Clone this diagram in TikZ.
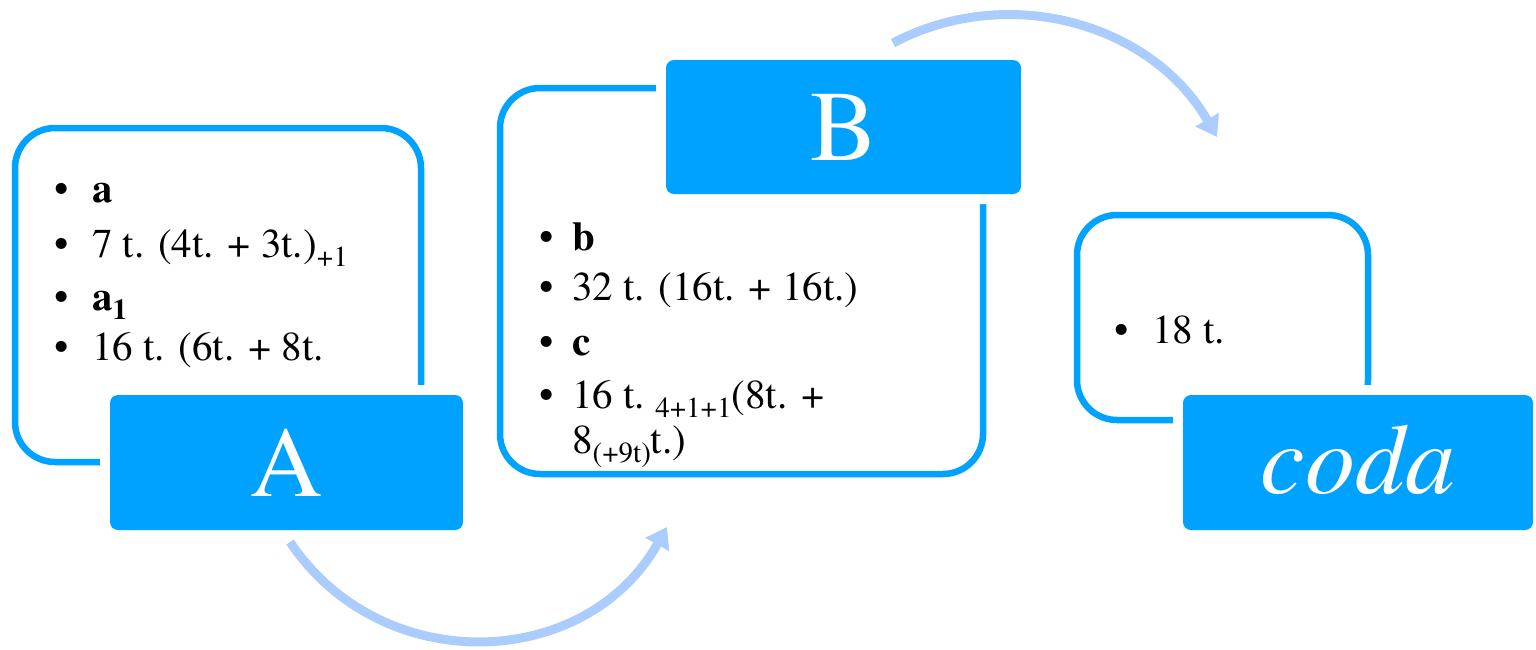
\documentclass[tikz,border=0pt]{standalone}
\usepackage{fontspec}
\setmainfont{texgyretermes}[Extension=.otf,UprightFont=*-regular,BoldFont=*-bold,ItalicFont=*-italic,BoldItalicFont=*-bolditalic]
\usetikzlibrary{arrows.meta}
\definecolor{boxblue}{HTML}{00A2FF}
\definecolor{arrowblue}{HTML}{AACCFF}
\newcommand\mysub[1]{\raisebox{-0.24em}{\fontsize{29}{29}\selectfont #1}}
\begin{document}
\begin{tikzpicture}[x=1pt,y=-1pt,
  frame/.style={draw=boxblue,line width=6.5pt,rounded corners=40pt,inner sep=0pt,outer sep=0pt},
  title/.style={fill=boxblue,rounded corners=8pt,inner sep=0pt,outer sep=0pt,text=white,
    font=\fontsize{100}{100}\selectfont,preaction={draw=white,line width=20pt}},
  bul/.style={anchor=base,inner sep=0pt,font=\fontsize{41}{48}\selectfont},
  txt/.style={anchor=base west,inner sep=0pt,font=\fontsize{41}{48}\selectfont},
  flow/.style={draw=arrowblue,line width=9pt,-{Triangle[length=20pt,width=26pt]}}]
\useasboundingbox (0,0) rectangle (1536,649);
% frames
\node[frame,minimum width=406pt,minimum height=334pt] (Aframe) at (218,295) {};
\node[frame,minimum width=483pt,minimum height=386pt] (Bframe) at (741.5,281) {};
\node[frame,minimum width=291pt,minimum height=205pt] (Cframe) at (1222.5,317.5) {};
% titles
\node[title,minimum width=353pt,minimum height=135pt] (A) at (286.5,462.5) {A};
\node[title,minimum width=355pt,minimum height=134pt] (B) at (843.5,127) {B};
\node[title,minimum width=350pt,minimum height=135pt] (C) at (1358,462.5) {\raisebox{6pt}{\itshape coda}};
% A text
\node[bul] (ab1) at (62,202) {•};
\node[txt] (at1) at (92,202) {\textbf{a}};
\node[bul] (ab2) at (62,257) {•};
\node[txt] (at2) at (92,257) {7 t. (4t. + 3t.)\mysub{+1}};
\node[bul] (ab3) at (62,310) {•};
\node[txt] (at3) at (92,310) {\textbf{a\mysub{1}}};
\node[bul] (ab4) at (62,360) {•};
\node[txt] (at4) at (92,360) {16 t. (6t. + 8t.};
% B text
\node[bul] (bb1) at (547,250) {•};
\node[txt] (bt1) at (572,250) {\textbf{b}};
\node[bul] (bb2) at (547,300) {•};
\node[txt] (bt2) at (572,300) {32 t. (16t. + 16t.)};
\node[bul] (bb3) at (547,355) {•};
\node[txt] (bt3) at (572,355) {\textbf{c}};
\node[bul] (bb4) at (547,408) {•};
\node[txt] (bt4) at (572,408) {16 t.\ \mysub{4+1+1}(8t. +};
\node[txt] (bt5) at (572,453) {8\mysub{(+9t)}t.)};
% coda text
\node[bul] (cb1) at (1122,343) {•};
\node[txt] (ct1) at (1152,343) {18 t.};
% arrows
\coordinate (f1s) at (290,542);
\coordinate (f1e) at (667,527);
\coordinate (f2s) at (893,43);
\coordinate (f2e) at (1217,137);
\draw[flow] (f1s) .. controls (382,679) and (586,671) .. (f1e);
\draw[flow] (f2s) .. controls (1009,-18) and (1152,24) .. (f2e);
\end{tikzpicture}
\end{document}
